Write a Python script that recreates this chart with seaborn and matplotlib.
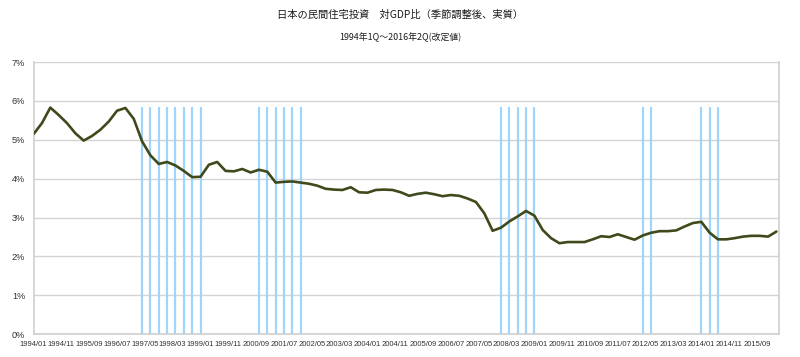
import matplotlib
matplotlib.use("Agg")
import matplotlib.pyplot as plt
import seaborn as sns
import pandas as pd

# 民間住宅投資 対GDP比 (%), quarterly 1994Q1 - 2016Q2
ratio = [5.15, 5.43, 5.83, 5.64, 5.43, 5.17, 4.98, 5.10, 5.26, 5.47,
         5.75, 5.82, 5.54, 4.96, 4.60, 4.38, 4.43, 4.34, 4.20, 4.04,
         4.05, 4.36, 4.43, 4.20, 4.19, 4.25, 4.16, 4.23, 4.18, 3.90,
         3.92, 3.93, 3.90, 3.87, 3.82, 3.74, 3.72, 3.71, 3.78, 3.65,
         3.64, 3.71, 3.72, 3.71, 3.65, 3.56, 3.61, 3.64, 3.60, 3.55,
         3.58, 3.56, 3.49, 3.40, 3.11, 2.66, 2.74, 2.90, 3.03, 3.17,
         3.05, 2.68, 2.47, 2.34, 2.37, 2.37, 2.37, 2.44, 2.52, 2.50,
         2.57, 2.50, 2.43, 2.54, 2.61, 2.65, 2.65, 2.67, 2.77, 2.86,
         2.89, 2.61, 2.44, 2.44, 2.47, 2.51, 2.53, 2.53, 2.51, 2.64]

# quarters marked with blue vertical lines
marked = ["1997/04", "1997/07", "1997/10", "1998/01", "1998/04", "1998/07", "1998/10", "1999/01",
          "2000/10", "2001/01", "2001/04", "2001/07", "2001/10", "2002/01",
          "2008/01", "2008/04", "2008/07", "2008/10", "2009/01",
          "2012/04", "2012/07",
          "2014/01", "2014/04", "2014/07"]
marker_top = 5.84


def month_index(label):
    y, m = label.split("/")
    return (int(y) - 1994) * 12 + int(m) - 1


quarters = pd.period_range("1994Q1", periods=len(ratio), freq="Q")
df = pd.DataFrame({
    "month": [(q.year - 1994) * 12 + (q.quarter - 1) * 3 for q in quarters],
    "ratio": ratio,
})
marked_x = [month_index(s) for s in marked]

sns.set_style("white")
plt.rcParams["font.family"] = ["Liberation Sans", "Noto Sans CJK JP", "DejaVu Sans"]

fig = plt.figure(figsize=(8, 3.57), dpi=100)
ax = fig.add_axes([0.042, 0.064, 0.932, 0.762])

ax.vlines(marked_x, 0, marker_top, color="#9fd4fb", linewidth=1.6, zorder=2)
sns.lineplot(data=df, x="month", y="ratio", color="#3f4a1c", linewidth=1.9, ax=ax, zorder=3)

ax.set_xlim(0, 268)
ax.set_ylim(0, 7)
ax.set_yticks(range(0, 8))
ax.set_yticklabels([f"{v}%" for v in range(0, 8)])
xt = list(range(0, 268, 10))
ax.set_xticks(xt)
ax.set_xticklabels([f"{1994 + m // 12}/{m % 12 + 1:02d}" for m in xt])
ax.set_xlabel("")
ax.set_ylabel("")

ax.grid(axis="y", color="#d4d4d4", linewidth=1)
ax.set_axisbelow(True)
for side in ["left", "bottom", "right"]:
    ax.spines[side].set_color("#cfcfcf")
    ax.spines[side].set_linewidth(1.2)
ax.spines["top"].set_visible(False)
ax.tick_params(axis="x", labelsize=5.5, colors="#333333", length=3, width=0.8, pad=2)
ax.tick_params(axis="y", labelsize=6.6, colors="#333333", length=3, width=0.8, pad=3)
for t in ax.get_xticklines() + ax.get_yticklines():
    t.set_color("#b8b8b8")

fig.text(0.5, 1 - 15 / 357, "日本の民間住宅投資　対GDP比（季節調整後、実質）",
         ha="center", va="center", fontsize=7.4, color="#1a1a1a",
         family=["Noto Sans CJK JP", "DejaVu Sans"])
fig.text(0.5, 1 - 37 / 357, "1994年1Q～2016年2Q(改定値)",
         ha="center", va="center", fontsize=6.4, color="#1a1a1a",
         family=["Noto Sans CJK JP", "DejaVu Sans"])

fig.savefig("out.png", dpi=100)
